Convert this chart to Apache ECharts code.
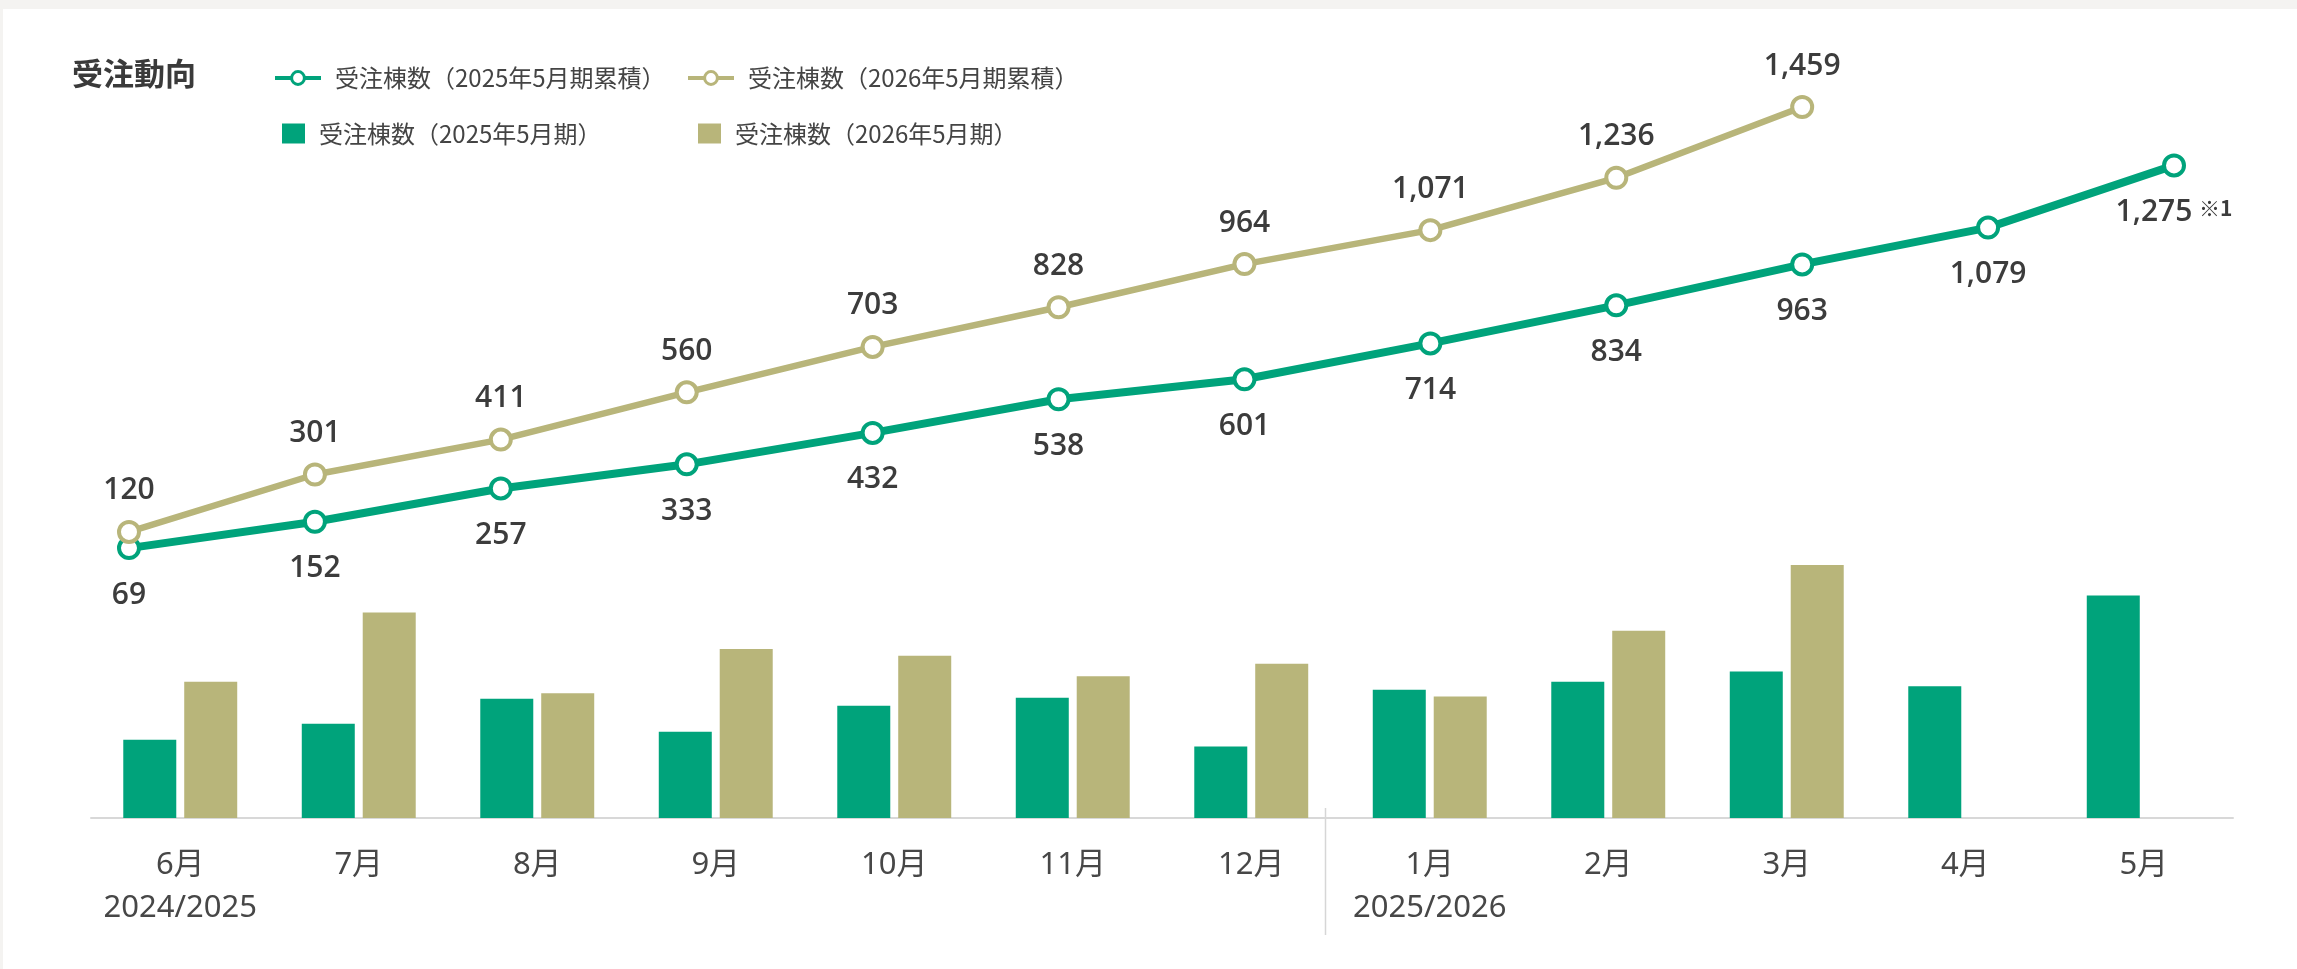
<!DOCTYPE html>
<html>
<head>
<meta charset="utf-8">
<script src="https://cdn.jsdelivr.net/npm/echarts@6/dist/echarts.min.js"></script>
<style>
  html, body { margin: 0; padding: 0; background: #f4f3f1; }
  #orders { width: 2297px; height: 969px; }
</style>
</head>
<body>
<div id="orders"></div>
<script>
// 受注動向 データ
var months = ['6月', '7月', '8月', '9月', '10月', '11月', '12月', '1月', '2月', '3月', '4月', '5月'];
var fiscalYears = ['2024/2025', '', '', '', '', '', '', '2025/2026', '', '', '', ''];
var cum2025 = [69, 152, 257, 333, 432, 538, 601, 714, 834, 963, 1079, 1275];
var cum2026 = [120, 301, 411, 560, 703, 828, 964, 1071, 1236, 1459];
var monthly2025 = [69, 83, 105, 76, 99, 106, 63, 113, 120, 129, 116, 196];
var monthly2026 = [120, 181, 110, 149, 143, 125, 136, 107, 165, 223];
var notes2025 = ['', '', '', '', '', '', '', '', '', '', '', '※1'];

var GREEN = '#00a37b';
var GOLD = '#b8b57a';
var TEXT = '#444444';
var FONT = "'Noto Sans', 'Noto Sans CJK JP', sans-serif";
var LABEL_FONT = "'Open Sans', 'Noto Sans', sans-serif";
var JP = "'Noto Sans CJK JP', sans-serif";

var chart = echarts.init(document.getElementById('orders'), null, { renderer: 'canvas' });

function fmt(n) {
    return n.toLocaleString('en-US');
}

var legendText = { fontSize: 24, color: TEXT, fontFamily: JP, padding: [0, 0, 0, 9] };
var lineLegend = {
    padding: 0, itemWidth: 46, itemHeight: 16, textStyle: legendText,
    lineStyle: { width: 4 },
    itemStyle: { borderWidth: 3 }
};
var barLegend = { padding: 0, itemWidth: 23, itemHeight: 20, icon: 'rect', textStyle: legendText };

var option = {
    backgroundColor: '#f4f3f1',
    animation: false,
    title: {
        text: '受注動向',
        left: 72,
        top: 58,
        padding: 0,
        textStyle: { fontSize: 31, fontWeight: 'bold', color: '#3a3a3a', fontFamily: JP, lineHeight: 31 }
    },
    legend: [
        Object.assign({ data: ['受注棟数（2025年5月期累積）'], left: 273, top: 66 }, lineLegend),
        Object.assign({ data: ['受注棟数（2026年5月期累積）'], left: 686, top: 66 }, lineLegend),
        Object.assign({ data: ['受注棟数（2025年5月期）'], left: 282, top: 121.5 }, barLegend),
        Object.assign({ data: ['受注棟数（2026年5月期）'], left: 698, top: 121.5 }, barLegend)
    ],
    grid: [
        // 月次の棒
        { left: 91, right: 64, bottom: 151, height: 283.75 },
        // 累積の折れ線
        { left: 129, right: 123, top: 94, height: 476 }
    ],
    xAxis: [
        {
            type: 'category',
            gridIndex: 0,
            data: months,
            axisLine: { lineStyle: { color: '#d8d8d8', width: 2 } },
            axisTick: { show: false },
            axisLabel: {
                interval: 0,
                margin: 25,
                fontSize: 31,
                lineHeight: 43.5,
                color: '#474747',
                fontFamily: FONT,
                formatter: function (v, i) {
                    return fiscalYears[i] ? v + '\n' + fiscalYears[i] : v;
                }
            }
        },
        { type: 'category', gridIndex: 1, data: months, boundaryGap: false, show: false }
    ],
    yAxis: [
        { type: 'value', gridIndex: 0, min: 0, max: 250, show: false },
        { type: 'value', gridIndex: 1, min: 0, max: 1500, show: false }
    ],
    graphic: [
        { type: 'rect', z: -10, silent: true, shape: { x: 3, y: 9, width: 2294, height: 960 }, style: { fill: '#ffffff' } },
        { type: 'line', silent: true, shape: { x1: 1325.5, y1: 808, x2: 1325.5, y2: 935 }, style: { stroke: '#d6d6d6', lineWidth: 1.5 } }
    ],
    series: [
        {
            name: '受注棟数（2025年5月期）',
            type: 'bar',
            xAxisIndex: 0, yAxisIndex: 0,
            data: monthly2025,
            barWidth: 53,
            barGap: '15%',
            itemStyle: { color: GREEN }
        },
        {
            name: '受注棟数（2026年5月期）',
            type: 'bar',
            xAxisIndex: 0, yAxisIndex: 0,
            data: monthly2026,
            barWidth: 53,
            barGap: '15%',
            itemStyle: { color: GOLD }
        },
        {
            name: '受注棟数（2025年5月期累積）',
            type: 'line',
            xAxisIndex: 1, yAxisIndex: 1,
            data: cum2025,
            symbol: 'circle',
            symbolSize: 20,
            lineStyle: { color: GREEN, width: 8 },
            itemStyle: { color: '#ffffff', borderColor: GREEN, borderWidth: 4 },
            label: {
                show: true,
                position: 'bottom',
                distance: 20,
                formatter: function (p) {
                    var s = '{v|' + fmt(p.value) + '}';
                    if (notes2025[p.dataIndex]) s += '  {n|' + notes2025[p.dataIndex] + '}';
                    return s;
                },
                rich: {
                    v: { fontSize: 30, fontWeight: 600, color: '#3c3c3c', fontFamily: LABEL_FONT, lineHeight: 30 },
                    n: { fontSize: 21, fontWeight: 'bold', color: '#3c3c3c', fontFamily: JP, lineHeight: 30, verticalAlign: 'top' }
                }
            },
            z: 3
        },
        {
            name: '受注棟数（2026年5月期累積）',
            type: 'line',
            xAxisIndex: 1, yAxisIndex: 1,
            data: cum2026,
            symbol: 'circle',
            symbolSize: 20,
            lineStyle: { color: GOLD, width: 6.5 },
            itemStyle: { color: '#ffffff', borderColor: GOLD, borderWidth: 4 },
            label: {
                show: true,
                position: 'top',
                distance: 14,
                fontSize: 30,
                fontWeight: 600,
                lineHeight: 30,
                color: '#3c3c3c',
                fontFamily: LABEL_FONT,
                formatter: function (p) { return fmt(p.value); }
            },
            z: 4
        }
    ]
};

chart.setOption(option);
</script>
</body>
</html>
